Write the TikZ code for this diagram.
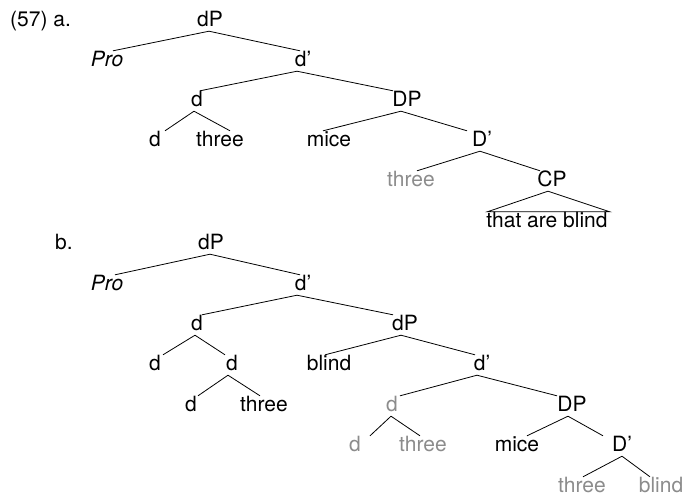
\documentclass[tikz,border=0pt]{standalone}
\usepackage{fontspec}
\setmainfont{TeX Gyre Heros}
\usepackage{tikz}
\definecolor{lowgray}{RGB}{140,140,140}
\newcommand{\twig}[4]{\draw[line width=0.8pt] ([xshift=#2pt]#1.south) -- ([xshift=#4pt]#3.north);}

\begin{document}
\begin{tikzpicture}[
        x=1pt, y=-1pt,
        lbl/.style={anchor=base, inner sep=0pt, text height=15pt, text depth=5pt,
            font=\fontsize{21}{25}\selectfont},
        faded/.style={lbl, text=lowgray},
        num/.style={lbl, anchor=base west}
    ]
    \useasboundingbox[fill=white] (0,0) rectangle (688,496);

    \node[num] (exa) at (10,26) {(57) a.};
    \node[lbl] (dPa) at (210,26) {dP};
    \node[lbl] (proa) at (107,66) {\itshape Pro};
    \node[lbl] (dbara) at (303,66) {d’};
    \node[lbl] (da) at (197,106) {d};
    \node[lbl] (DPa) at (407,106) {DP};
    \node[lbl] (dda) at (155,146) {d};
    \node[lbl] (threea) at (220,146) {three};
    \node[lbl] (micea) at (329,146) {mice};
    \node[lbl] (Dbara) at (482,146) {D’};
    \node[faded] (threeaa) at (411,186) {three};
    \node[lbl] (CPa) at (552,186) {CP};
    \node[lbl] (thata) at (547,227) {that are blind};

    \twig{dPa}{-1}{proa}{6}
    \twig{dPa}{-1}{dbara}{-3}
    \twig{dbara}{-6}{da}{3}
    \twig{dbara}{-6}{DPa}{-14}
    \twig{da}{-3}{dda}{10}
    \twig{da}{-3}{threea}{10}
    \twig{DPa}{-6}{micea}{-6}
    \twig{DPa}{-6}{Dbara}{-15}
    \twig{Dbara}{-2}{threeaa}{6}
    \twig{Dbara}{-2}{CPa}{-12}
    \draw[line width=0.8pt] ([xshift=-4pt]CPa.south) -- ([xshift=1pt]thata.north west)
        -- ([xshift=2pt]thata.north east) -- cycle;

    \node[num] (exb) at (55,249) {b.};
    \node[lbl] (dPb) at (211,249) {dP};
    \node[lbl] (prob) at (107,290) {\itshape Pro};
    \node[lbl] (dbarb) at (303,290) {d’};
    \node[lbl] (db) at (197,330) {d};
    \node[lbl] (dPbb) at (405,330) {dP};
    \node[lbl] (ddb) at (155,370) {d};
    \node[lbl] (dddb) at (232,370) {d};
    \node[lbl] (blindb) at (329,370) {blind};
    \node[lbl] (dbarbb) at (482,370) {d’};
    \node[lbl] (ddddb) at (191,411) {d};
    \node[lbl] (threeb) at (264,411) {three};
    \node[faded] (dgb) at (392,411) {d};
    \node[lbl] (DPb) at (572,411) {DP};
    \node[faded] (dggb) at (355,451) {d};
    \node[faded] (threebb) at (423,451) {three};
    \node[lbl] (miceb) at (517,451) {mice};
    \node[lbl] (Dbarb) at (622,451) {D’};
    \node[faded] (threebbb) at (582,492) {three};
    \node[faded] (blindbb) at (661,492) {blind};

    \twig{dPb}{-1}{prob}{8}
    \twig{dPb}{-1}{dbarb}{-3}
    \twig{dbarb}{-6}{db}{5}
    \twig{dbarb}{-6}{dPbb}{-12}
    \twig{db}{-2}{ddb}{8}
    \twig{db}{-2}{dddb}{-7}
    \twig{dddb}{-4}{ddddb}{7}
    \twig{dddb}{-4}{threeb}{-4}
    \twig{dPbb}{-4}{blindb}{-4}
    \twig{dPbb}{-4}{dbarbb}{-7}
    \twig{dbarbb}{-5}{dgb}{8}
    \twig{dbarbb}{-5}{DPb}{-15}
    \twig{dgb}{-1}{dggb}{15}
    \twig{dgb}{-1}{threebb}{-3}
    \twig{DPb}{-4}{miceb}{10}
    \twig{DPb}{-4}{Dbarb}{-19}
    \twig{Dbarb}{0}{threebbb}{1}
    \twig{Dbarb}{0}{blindbb}{-11}
\end{tikzpicture}
\end{document}
